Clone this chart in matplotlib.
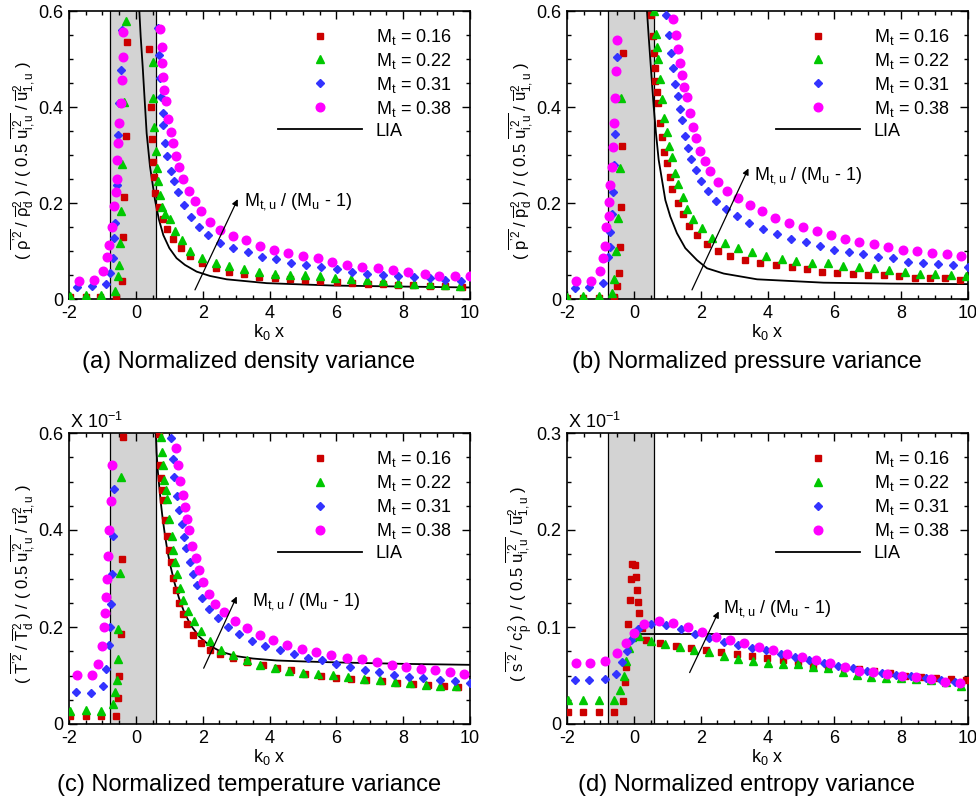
import matplotlib
matplotlib.use("Agg")
import matplotlib.pyplot as plt
from matplotlib.ticker import FixedLocator, MultipleLocator, FuncFormatter

plt.rcParams["font.family"] = ["Liberation Sans", "DejaVu Sans"]
plt.rcParams["mathtext.fontset"] = "custom"
plt.rcParams["mathtext.rm"] = "Liberation Sans"
plt.rcParams["mathtext.it"] = "Liberation Sans"
plt.rcParams["mathtext.bf"] = "Liberation Sans:bold"
plt.rcParams["mathtext.default"] = "regular"
plt.rcParams["axes.unicode_minus"] = False

MT_LABELS = ["0.16", "0.22", "0.31", "0.38"]
SHOCK_LO, SHOCK_HI = -0.78, 0.60

# (a) density variance
A16_X = [-1.97, -1.50, -1.07, -0.59, -0.42, -0.37, -0.34, -0.30, -0.27, 0.40, 0.44, 0.48, 0.50, 0.53, 0.57,
         0.70, 0.80, 0.92, 1.10, 1.34, 1.62, 1.97, 2.39, 2.80, 3.25, 3.70, 4.16, 4.61, 5.06, 5.51,
         6.01, 6.48, 6.94, 7.41, 7.86, 8.30, 8.80, 9.25, 9.75]
A16_Y = [0.004, 0.004, 0.004, 0.004, 0.038, 0.130, 0.213, 0.340, 0.536, 0.520, 0.400, 0.333, 0.285, 0.255, 0.220,
         0.192, 0.167, 0.145, 0.124, 0.106, 0.089, 0.074, 0.065, 0.056, 0.052, 0.046, 0.044, 0.042, 0.040, 0.038,
         0.036, 0.034, 0.032, 0.031, 0.030, 0.029, 0.028, 0.028, 0.026]
A22_X = [-1.97, -1.50, -1.04, -0.62, -0.52, -0.49, -0.47, -0.44, -0.40, -0.34, -0.30,
         0.50, 0.52, 0.55, 0.59, 0.62, 0.66, 0.72, 0.79, 0.88,
         1.01, 1.16, 1.37, 1.62, 1.97, 2.39, 2.80, 3.25, 3.70, 4.16, 4.61, 5.06, 5.51, 5.96, 6.43,
         6.91, 7.39, 7.86, 8.31, 8.81, 9.26, 9.71]
A22_Y = [0.006, 0.008, 0.008, 0.017, 0.047, 0.071, 0.116, 0.184, 0.281, 0.411, 0.579,
         0.494, 0.418, 0.359, 0.308, 0.272, 0.246, 0.217, 0.192, 0.178,
         0.166, 0.142, 0.122, 0.100, 0.086, 0.076, 0.069, 0.063, 0.057, 0.053, 0.051, 0.049, 0.047, 0.044, 0.042,
         0.040, 0.0375, 0.034, 0.032, 0.0305, 0.029, 0.028]
A31_X = [-1.75, -1.32, -0.89, -0.77, -0.69, -0.65, -0.62, -0.57, -0.52, -0.49, -0.45, -0.42,
         0.67, 0.69, 0.72, 0.75, 0.80, 0.82, 0.87, 0.94, 1.04, 1.14, 1.27, 1.44, 1.65, 1.89, 2.17,
         2.52, 2.92, 3.35, 3.77, 4.20, 4.65, 5.10, 5.55, 6.02, 6.47, 6.91, 7.39, 7.84, 8.31, 8.81, 9.24, 9.73]
A31_Y = [0.024, 0.027, 0.031, 0.055, 0.085, 0.128, 0.159, 0.238, 0.342, 0.409, 0.478, 0.560,
         0.565, 0.508, 0.460, 0.420, 0.387, 0.363, 0.324, 0.297, 0.267, 0.246, 0.222, 0.196, 0.171, 0.151, 0.133,
         0.117, 0.106, 0.097, 0.088, 0.083, 0.076, 0.071, 0.066, 0.062, 0.057, 0.053, 0.051, 0.048, 0.045, 0.043, 0.040, 0.037]
A38_X = [-1.70, -1.25, -0.97, -0.85, -0.79, -0.71, -0.64, -0.60, -0.57, -0.55, -0.52, -0.49, -0.45, -0.42, -0.39, -0.37,
         0.72, 0.77, 0.79, 0.82, 0.85, 0.89, 0.97, 1.04, 1.10, 1.19, 1.29, 1.42, 1.59, 1.77, 1.94, 2.22, 2.52,
         2.90, 3.30, 3.72, 4.13, 4.56, 5.01, 5.46, 5.86, 6.31, 6.76, 7.24, 7.69, 8.13, 8.65, 9.08, 9.55, 10.0]
A38_Y = [0.0375, 0.040, 0.058, 0.088, 0.113, 0.149, 0.194, 0.222, 0.249, 0.290, 0.324, 0.366, 0.408, 0.456, 0.505, 0.557,
         0.5625, 0.526, 0.491, 0.462, 0.435, 0.413, 0.376, 0.347, 0.324, 0.297, 0.274, 0.251, 0.226, 0.204, 0.183, 0.161, 0.144,
         0.131, 0.122, 0.110, 0.103, 0.096, 0.090, 0.085, 0.078, 0.071, 0.067, 0.064, 0.060, 0.056, 0.052, 0.048, 0.048, 0.048]
A_LIA_X = [0.105, 0.145, 0.205, 0.264, 0.324, 0.424, 0.574, 0.693, 0.823, 1.003, 1.22, 1.47, 1.82, 2.22, 2.72,
           3.92, 5.91, 7.90, 10.0]
A_LIA_Y = [0.600, 0.547, 0.484, 0.415, 0.345, 0.276, 0.206, 0.165, 0.133, 0.106, 0.085, 0.071, 0.057, 0.048, 0.041,
           0.033, 0.028, 0.026, 0.024]

# (b) pressure variance
B16_X = [-2.0, -1.52, -1.05, -0.60, -0.50, -0.45, -0.40, -0.38, -0.35, -0.32,
         0.52, 0.56, 0.59, 0.62, 0.64, 0.69, 0.71, 0.77, 0.84, 0.91, 0.99, 1.07, 1.15, 1.32, 1.46, 1.66, 1.89,
         2.19, 2.52, 2.89, 3.34, 3.79, 4.24, 4.72, 5.19, 5.64, 6.08, 6.56, 7.01, 7.48, 7.93, 8.40, 8.87, 9.32, 9.77]
B16_Y = [0.003, 0.003, 0.003, 0.004, 0.028, 0.055, 0.109, 0.192, 0.319, 0.512,
         0.592, 0.547, 0.512, 0.481, 0.454, 0.432, 0.408, 0.367, 0.337, 0.307, 0.283, 0.255, 0.229, 0.201, 0.177, 0.153, 0.133,
         0.115, 0.101, 0.090, 0.081, 0.074, 0.071, 0.066, 0.062, 0.057, 0.055, 0.053, 0.051, 0.049, 0.047, 0.044, 0.043, 0.043, 0.040]
B22_X = [-2.0, -1.53, -1.05, -0.65, -0.58, -0.52, -0.47, -0.42, -0.38,
         0.61, 0.65, 0.68, 0.72, 0.77, 0.84, 0.91, 0.99, 1.06, 1.14, 1.22, 1.32, 1.46, 1.59, 1.77, 2.04, 2.34,
         2.72, 3.11, 3.54, 3.97, 4.42, 4.86, 5.33, 5.80, 6.26, 6.73, 7.18, 7.63, 8.10, 8.57, 9.02, 9.49, 9.95]
B22_Y = [0.005, 0.006, 0.006, 0.012, 0.041, 0.101, 0.168, 0.272, 0.419,
         0.599, 0.552, 0.526, 0.501, 0.458, 0.416, 0.378, 0.347, 0.319, 0.295, 0.263, 0.240, 0.212, 0.188, 0.167, 0.147, 0.128,
         0.116, 0.107, 0.097, 0.090, 0.083, 0.080, 0.076, 0.074, 0.069, 0.067, 0.064, 0.060, 0.056, 0.053, 0.052, 0.050, 0.048]
B31_X = [-1.75, -1.33, -0.93, -0.78, -0.72, -0.70, -0.65, -0.63, -0.60, -0.57, -0.51,
         0.96, 1.04, 1.10, 1.16, 1.24, 1.31, 1.37, 1.43, 1.52, 1.62, 1.72, 1.86, 2.02, 2.21, 2.46, 2.76,
         3.09, 3.44, 3.86, 4.27, 4.71, 5.14, 5.58, 5.98, 6.43, 6.86, 7.31, 7.75, 8.19, 8.65, 9.10, 9.55, 10.0]
B31_Y = [0.022, 0.024, 0.033, 0.088, 0.109, 0.140, 0.178, 0.222, 0.279, 0.343, 0.505,
         0.592, 0.551, 0.513, 0.481, 0.448, 0.422, 0.396, 0.372, 0.340, 0.315, 0.292, 0.269, 0.246, 0.226, 0.205, 0.187,
         0.172, 0.159, 0.145, 0.135, 0.126, 0.118, 0.111, 0.103, 0.098, 0.093, 0.088, 0.085, 0.078, 0.074, 0.073, 0.071, 0.067]
B38_X = [-1.72, -1.27, -1.02, -0.92, -0.87, -0.82, -0.75, -0.73, -0.70, -0.65, -0.63, -0.60, -0.57, -0.54, -0.50,
         1.17, 1.26, 1.31, 1.37, 1.45, 1.51, 1.59, 1.67, 1.76, 1.87, 1.99, 2.14, 2.29, 2.53, 2.79, 3.11,
         3.47, 3.84, 4.22, 4.63, 5.05, 5.48, 5.90, 6.33, 6.75, 7.18, 7.61, 8.05, 8.47, 8.92, 9.37, 9.80]
B38_Y = [0.0375, 0.0375, 0.059, 0.085, 0.110, 0.149, 0.173, 0.203, 0.238, 0.276, 0.317, 0.366, 0.418, 0.476, 0.540,
         0.583, 0.549, 0.520, 0.492, 0.467, 0.441, 0.420, 0.387, 0.359, 0.336, 0.308, 0.288, 0.267, 0.244, 0.225, 0.211,
         0.196, 0.183, 0.168, 0.159, 0.151, 0.142, 0.133, 0.126, 0.119, 0.114, 0.109, 0.103, 0.099, 0.095, 0.093, 0.090]
B_LIA_X = [0.394, 0.444, 0.494, 0.544, 0.594, 0.663, 0.743, 0.943, 1.09, 1.29, 1.54, 1.89, 2.19, 2.69, 3.69,
           5.68, 7.67, 10.0]
B_LIA_Y = [0.600, 0.547, 0.498, 0.449, 0.401, 0.345, 0.290, 0.206, 0.172, 0.137, 0.106, 0.081, 0.064, 0.053, 0.041,
           0.034, 0.032, 0.031]

# (c) temperature variance
C16_X = [-1.97, -1.50, -1.05, -0.60, -0.52, -0.49, -0.45, -0.42, -0.37,
         0.69, 0.72, 0.75, 0.79, 0.82, 0.87, 0.94, 1.00, 1.05, 1.12, 1.19, 1.29, 1.42, 1.54, 1.72, 1.95, 2.22,
         2.52, 2.92, 3.34, 3.80, 4.21, 4.63, 5.06, 5.53, 5.99, 6.43, 6.89, 7.36, 7.81, 8.28, 8.75, 9.23, 9.65]
C16_Y = [0.016, 0.016, 0.016, 0.017, 0.054, 0.100, 0.186, 0.340, 0.592,
         0.597, 0.535, 0.507, 0.483, 0.461, 0.421, 0.388, 0.359, 0.335, 0.301, 0.277, 0.249, 0.227, 0.207, 0.184, 0.168, 0.152,
         0.145, 0.136, 0.127, 0.121, 0.115, 0.111, 0.104, 0.098, 0.095, 0.093, 0.090, 0.088, 0.085, 0.082, 0.080, 0.078, 0.076]
C22_X = [-1.97, -1.50, -1.05, -0.67, -0.62, -0.57, -0.54, -0.52, -0.47, -0.44,
         0.75, 0.79, 0.82, 0.85, 0.90, 0.92, 1.00, 1.07, 1.12, 1.17, 1.22, 1.32, 1.42, 1.57, 1.75, 1.95, 2.22,
         2.54, 2.90, 3.32, 3.72, 4.15, 4.59, 5.01, 5.46, 5.91, 6.36, 6.83, 7.31, 7.76, 8.21, 8.68, 9.11, 9.59]
C22_Y = [0.026, 0.028, 0.027, 0.041, 0.065, 0.091, 0.133, 0.196, 0.311, 0.509,
         0.592, 0.560, 0.535, 0.504, 0.482, 0.463, 0.423, 0.388, 0.359, 0.333, 0.309, 0.280, 0.256, 0.234, 0.212, 0.191, 0.172,
         0.153, 0.143, 0.131, 0.122, 0.115, 0.109, 0.105, 0.104, 0.102, 0.097, 0.093, 0.090, 0.086, 0.085, 0.081, 0.079, 0.078]
C31_X = [-1.79, -1.35, -0.99, -0.89, -0.80, -0.77, -0.74, -0.72, -0.69, -0.65,
         1.05, 1.10, 1.15, 1.24, 1.29, 1.37, 1.44, 1.50, 1.62, 1.70, 1.82, 1.99, 2.20, 2.47, 2.77, 3.10,
         3.47, 3.87, 4.30, 4.72, 5.14, 5.56, 5.99, 6.41, 6.86, 7.29, 7.73, 8.16, 8.60, 9.10, 9.55, 10.0]
C31_Y = [0.065, 0.064, 0.078, 0.113, 0.162, 0.200, 0.247, 0.309, 0.388, 0.485,
         0.590, 0.546, 0.509, 0.471, 0.441, 0.412, 0.386, 0.363, 0.334, 0.310, 0.286, 0.260, 0.238, 0.219, 0.201, 0.186,
         0.172, 0.160, 0.152, 0.144, 0.137, 0.131, 0.124, 0.117, 0.112, 0.107, 0.102, 0.097, 0.095, 0.091, 0.088, 0.085]
C38_X = [-1.75, -1.32, -1.12, -1.02, -0.95, -0.92, -0.89, -0.87, -0.84, -0.79, -0.75, -0.70,
         1.19, 1.27, 1.32, 1.40, 1.47, 1.52, 1.59, 1.69, 1.79, 1.89, 2.02, 2.19, 2.37, 2.64, 2.97, 3.32,
         3.72, 4.11, 4.53, 4.96, 5.39, 5.84, 6.31, 6.76, 7.21, 7.66, 8.09, 8.53, 8.96, 9.39, 9.82]
C38_Y = [0.102, 0.102, 0.124, 0.160, 0.201, 0.229, 0.262, 0.299, 0.346, 0.399, 0.460, 0.533,
         0.569, 0.533, 0.502, 0.473, 0.447, 0.423, 0.399, 0.368, 0.342, 0.317, 0.292, 0.269, 0.248, 0.230, 0.213, 0.198,
         0.184, 0.174, 0.162, 0.155, 0.148, 0.142, 0.137, 0.133, 0.127, 0.122, 0.118, 0.113, 0.111, 0.107, 0.103]
C_LIA_X = [0.60, 0.62, 0.66, 0.70, 0.75, 0.80, 0.87, 0.95, 1.05, 1.15, 1.29, 1.45, 1.65, 1.90, 2.20, 2.55,
           3.00, 3.50, 4.20, 5.00, 6.00, 8.00, 10.0]
C_LIA_Y = [0.597, 0.560, 0.520, 0.490, 0.455, 0.425, 0.390, 0.355, 0.322, 0.293, 0.260, 0.230, 0.203, 0.180, 0.162, 0.149,
           0.140, 0.135, 0.131, 0.129, 0.127, 0.124, 0.122]

# (d) entropy variance
D16_X = [-1.98, -1.52, -1.05, -0.60, -0.33, -0.27, -0.23, -0.17, -0.12, -0.07, -0.05, 0.03, 0.05, 0.10, 0.12, 0.15,
         0.25, 0.35, 0.77, 1.26, 1.72, 2.16, 2.62, 3.09, 3.54, 3.99, 4.45, 4.90, 5.35, 5.81, 6.28, 6.73, 7.20,
         7.66, 8.12, 8.59, 9.05, 9.50, 9.95]
D16_Y = [0.0124, 0.0124, 0.0124, 0.0124, 0.0234, 0.0433, 0.0584, 0.103, 0.1275, 0.149, 0.165, 0.1636, 0.152, 0.1385,
         0.126, 0.114, 0.099, 0.087, 0.0835, 0.080, 0.078, 0.076, 0.074, 0.072, 0.070, 0.068, 0.066, 0.064, 0.060,
         0.0595, 0.0577, 0.0567, 0.0543, 0.0526, 0.050, 0.048, 0.047, 0.046, 0.045]
D22_X = [-1.98, -1.52, -1.05, -0.60, -0.40, -0.30, -0.23, -0.15, -0.05, 0.15, 0.50, 0.92, 1.37, 1.81, 2.26, 2.69,
         3.11, 3.56, 4.01, 4.45, 4.90, 5.35, 5.81, 6.25, 6.68, 7.11, 7.55, 8.00, 8.45, 8.88, 9.33, 9.78]
D22_Y = [0.025, 0.025, 0.025, 0.025, 0.035, 0.050, 0.065, 0.078, 0.090, 0.091, 0.086, 0.082, 0.079, 0.076, 0.074, 0.070,
         0.067, 0.065, 0.063, 0.062, 0.062, 0.059, 0.058, 0.054, 0.051, 0.048, 0.047, 0.047, 0.046, 0.045, 0.043, 0.039]
D31_X = [-1.77, -1.35, -0.87, -0.53, -0.35, -0.20, -0.07, 0.12, 0.31, 0.51, 0.97, 1.41, 1.84, 2.26, 2.69, 3.11,
         3.54, 3.96, 4.39, 4.81, 5.24, 5.68, 6.11, 6.55, 6.98, 7.43, 7.86, 8.30, 8.75, 9.18, 9.62]
D31_Y = [0.045, 0.045, 0.046, 0.052, 0.064, 0.075, 0.087, 0.098, 0.103, 0.103, 0.102, 0.098, 0.093, 0.089, 0.085, 0.081,
         0.078, 0.076, 0.072, 0.069, 0.066, 0.063, 0.060, 0.058, 0.055, 0.053, 0.051, 0.049, 0.047, 0.045, 0.043]
D38_X = [-1.73, -1.30, -0.85, -0.50, -0.22, 0.0, 0.30, 0.74, 1.17, 1.61, 2.04, 2.46, 2.89, 3.31, 3.74, 4.17,
         4.59, 5.02, 5.44, 5.87, 6.31, 6.74, 7.17, 7.59, 8.02, 8.45, 8.89, 9.32, 9.76]
D38_Y = [0.063, 0.063, 0.065, 0.073, 0.083, 0.094, 0.103, 0.106, 0.104, 0.100, 0.0945, 0.090, 0.087, 0.083, 0.079, 0.076,
         0.072, 0.069, 0.066, 0.063, 0.059, 0.055, 0.054, 0.052, 0.050, 0.048, 0.046, 0.043, 0.042]
D_LIA_X = [0.0, 10.0]
D_LIA_Y = [0.093, 0.093]

# marker style per Mt
STYLES = [
    dict(marker="s", ms=5.0, color="#cc0000"),
    dict(marker="^", ms=5.3, color="#00c800"),
    dict(marker="D", ms=4.0, color="#3333ff"),
    dict(marker="o", ms=6.2, color="#ff00ff"),
]

YL_TAIL = r"\ )\ /\ (\ 0.5\ \overline{u^{’2}_{i,u}}\ /\ \overline{u}^{2}_{1,u}\ )$"
YLABELS = [
    r"$(\ \overline{\rho^{’2}}\ /\ \overline{\rho}^{2}_{d}" + YL_TAIL,
    r"$(\ \overline{p^{’2}}\ /\ \overline{p}^{2}_{d}" + YL_TAIL,
    r"$(\ \overline{T^{’2}}\ /\ \overline{T}^{2}_{d}" + YL_TAIL,
    r"$(\ \overline{s^{’2}}\ /\ c^{2}_{p}" + YL_TAIL,
]
CAPTIONS = [
    "(a) Normalized density variance",
    "(b) Normalized pressure variance",
    "(c) Normalized temperature variance",
    "(d) Normalized entropy variance",
]


def draw_panel(ax, series, lia_x, lia_y, ytop, ylabel, arrow_from, arrow_to, note_xy, scale_note=False):
    ax.axvspan(SHOCK_LO, SHOCK_HI, color="#d3d3d3", lw=0, zorder=0)
    ax.axvline(SHOCK_LO, color="k", lw=0.9, zorder=1)
    ax.axvline(SHOCK_HI, color="k", lw=0.9, zorder=1)

    handles = []
    for (xs, ys), st, lab in zip(series, STYLES, MT_LABELS):
        h, = ax.plot(xs, ys, ls="none", marker=st["marker"], ms=st["ms"], color=st["color"],
                     mec=st["color"], zorder=3, label=r"M$_{t}$ = " + lab)
        handles.append(h)
    lia, = ax.plot(lia_x, lia_y, color="k", lw=1.3, zorder=2, label="LIA")
    handles.append(lia)

    ax.annotate("", xy=arrow_to, xytext=arrow_from,
                arrowprops=dict(arrowstyle="-|>", color="k", lw=0.9, mutation_scale=9, shrinkA=0, shrinkB=0),
                zorder=4)
    ax.text(note_xy[0], note_xy[1], r"M$_{t,u}$ / (M$_{u}$ - 1)", fontsize=13, va="center", ha="left")

    ax.legend(handles=handles, loc="upper left", bbox_to_anchor=(0.521, 0.945), frameon=False, fontsize=13,
              handlelength=4.65, handletextpad=0.78, borderpad=0, borderaxespad=0, labelspacing=0.22, numpoints=1)

    ax.set_xlim(-2, 10)
    ax.set_ylim(0, ytop)
    ax.xaxis.set_major_locator(MultipleLocator(2))
    ax.xaxis.set_minor_locator(MultipleLocator(0.5))
    step = ytop / 3
    ax.yaxis.set_major_locator(FixedLocator([0, step, 2 * step, ytop]))
    ax.yaxis.set_minor_locator(MultipleLocator(step / 4))
    fmt = FuncFormatter(lambda v, _: "0" if abs(v) < 1e-9 else f"{round(v, 3):g}")
    ax.xaxis.set_major_formatter(fmt)
    ax.yaxis.set_major_formatter(fmt)
    ax.tick_params(which="both", direction="in", top=True, right=True, labelsize=13, width=1.0, pad=4)
    ax.tick_params(which="major", length=6)
    ax.tick_params(which="minor", length=3)
    for sp in ax.spines.values():
        sp.set_linewidth(1.2)

    ax.set_xlabel(r"k$_{0}$ x", fontsize=13, labelpad=0)
    ax.set_ylabel(ylabel, fontsize=12)
    ax.yaxis.set_label_coords(-0.08, 0.48)

    if scale_note:
        ax.text(0.003, 1.004, r"X 10$^{-1}$", transform=ax.transAxes, ha="left", va="bottom", fontsize=13)


fig = plt.figure(figsize=(9.76, 8.06), dpi=100)
W, H = 976, 806
boxes = [(69, 11, 470, 299), (567, 11, 968, 299), (69, 433, 470, 724), (567, 433, 968, 724)]
axes = [fig.add_axes([l / W, 1 - b / H, (r - l) / W, (b - t) / H]) for (l, t, r, b) in boxes]

draw_panel(axes[0], [(A16_X, A16_Y), (A22_X, A22_Y), (A31_X, A31_Y), (A38_X, A38_Y)], A_LIA_X, A_LIA_Y, 0.6,
           YLABELS[0], (1.77, 0.019), (3.05, 0.208), (3.25, 0.203))
draw_panel(axes[1], [(B16_X, B16_Y), (B22_X, B22_Y), (B31_X, B31_Y), (B38_X, B38_Y)], B_LIA_X, B_LIA_Y, 0.6,
           YLABELS[1], (1.74, 0.019), (3.43, 0.272), (3.59, 0.258))
draw_panel(axes[2], [(C16_X, C16_Y), (C22_X, C22_Y), (C31_X, C31_Y), (C38_X, C38_Y)], C_LIA_X, C_LIA_Y, 0.6,
           YLABELS[2], (2.03, 0.115), (3.02, 0.263), (3.47, 0.253), scale_note=True)
draw_panel(axes[3], [(D16_X, D16_Y), (D22_X, D22_Y), (D31_X, D31_Y), (D38_X, D38_Y)], D_LIA_X, D_LIA_Y, 0.3,
           YLABELS[3], (1.67, 0.053), (2.54, 0.116), (2.67, 0.1186), scale_note=True)

for (cx, cy), cap in zip([(249, 362), (747, 362), (249, 785), (747, 785)], CAPTIONS):
    fig.text(cx / W, 1 - cy / H, cap, ha="center", va="center", fontsize=17)

fig.savefig("out.png", dpi=100)
